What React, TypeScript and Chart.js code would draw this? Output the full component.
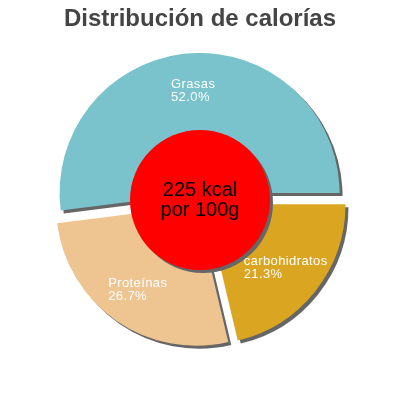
import { useEffect, useRef } from 'react';
import { Chart, registerables } from 'chart.js';

Chart.register(...registerables);

// clockwise from 3 o'clock
const labels = ['carbohidratos', 'Proteínas', 'Grasas'];
const values = [21.3, 26.7, 52.0];
const colors = ['#daa520', '#eec591', '#7ac3cc'];
const centerLines = ['225 kcal', 'por 100g'];
const title = 'Distribución de calorías';

const FONT = "'Liberation Sans', Arial, sans-serif";
// slices pulled out by this many px (done by hand: chart.js' own offset
// also grows slices wider than 180deg)
const PULL = 7;

// draws each arc shifted out along its mid angle, with a flat grey shadow
const explodePlugin = {
  id: 'explode',
  beforeDatasetsDraw(chart: any) {
    const ctx = chart.ctx;
    const meta = chart.getDatasetMeta(0);
    ctx.save();
    ctx.shadowColor = '#666666';
    ctx.shadowBlur = 0;
    ctx.shadowOffsetX = 3;
    ctx.shadowOffsetY = 3;
    meta.data.forEach((arc: any) => {
      const mid = (arc.startAngle + arc.endAngle) / 2;
      ctx.save();
      ctx.translate(Math.cos(mid) * PULL, Math.sin(mid) * PULL);
      arc.draw(ctx);
      ctx.restore();
    });
    ctx.restore();
    return false;
  },
};

const centerPlugin = {
  id: 'centerLabels',
  afterDraw(chart: any) {
    const ctx = chart.ctx;
    const meta = chart.getDatasetMeta(0);
    const first = meta.data[0];
    const cx = first.x;
    const cy = first.y;
    const r = first.outerRadius * 0.5;

    // red disc with shadow
    ctx.save();
    ctx.shadowColor = '#666666';
    ctx.shadowOffsetX = 3;
    ctx.shadowOffsetY = 3;
    ctx.fillStyle = '#ff0000';
    ctx.beginPath();
    ctx.arc(cx, cy, r, 0, Math.PI * 2);
    ctx.fill();
    ctx.restore();

    ctx.save();
    ctx.fillStyle = '#000';
    ctx.font = `20px ${FONT}`;
    ctx.textAlign = 'center';
    ctx.textBaseline = 'middle';
    ctx.fillText(centerLines[0], cx, cy - 10);
    ctx.fillText(centerLines[1], cx, cy + 10);
    ctx.restore();

    // slice labels
    ctx.save();
    ctx.fillStyle = '#ffffff';
    ctx.font = `13px ${FONT}`;
    (ctx as any).letterSpacing = '0.4px';
    ctx.textAlign = 'left';
    ctx.textBaseline = 'middle';
    meta.data.forEach((arc: any, i: number) => {
      const mid = (arc.startAngle + arc.endAngle) / 2;
      const dist = PULL + arc.outerRadius * 0.73;
      const ax = arc.x + Math.cos(mid) * dist;
      const ay = arc.y + Math.sin(mid) * dist;
      const lines = [labels[i], values[i].toFixed(1) + '%'];
      const w = Math.max(...lines.map((l) => ctx.measureText(l).width));
      ctx.fillText(lines[0], ax - w / 2, ay - 6.5);
      ctx.fillText(lines[1], ax - w / 2, ay + 6.5);
    });
    ctx.restore();
  },
};

export default function App() {
  const canvasRef = useRef<HTMLCanvasElement>(null);

  useEffect(() => {
    document.body.style.margin = '0';
    if (!canvasRef.current) return;

    const chart = new Chart(canvasRef.current, {
      type: 'pie',
      data: {
        labels,
        datasets: [
          {
            data: values,
            backgroundColor: colors,
            borderWidth: 0,
          },
        ],
      },
      options: {
        responsive: false,
        animation: false,
        rotation: 90,
        layout: { padding: { top: 0, left: 60, right: 60, bottom: 60 } },
        plugins: {
          legend: { display: false },
          tooltip: { enabled: false },
          title: {
            display: true,
            text: title,
            color: '#444444',
            font: { family: FONT, size: 24, weight: 'bold' },
            padding: { top: 4.5, bottom: 26.7 },
          },
        },
      },
      plugins: [explodePlugin, centerPlugin],
    });

    return () => chart.destroy();
  }, []);

  return (
    <div style={{ width: 400, height: 400 }}>
      <canvas ref={canvasRef} width={400} height={400}></canvas>
    </div>
  );
}
